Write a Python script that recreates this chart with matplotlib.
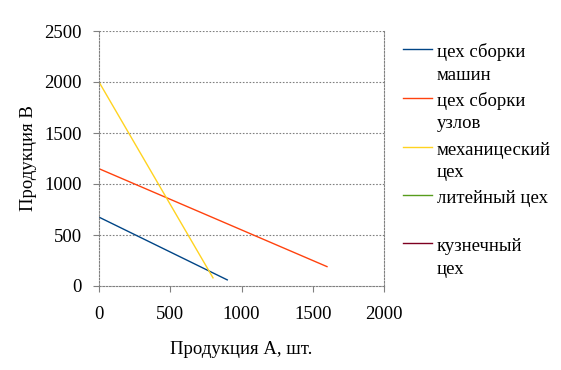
import matplotlib.pyplot as plt
from matplotlib.lines import Line2D

plt.rcParams["font.family"] = ["Liberation Serif", "DejaVu Serif"]

series_names = ["цех сборки\nмашин", "цех сборки\nузлов", "механицеский\nцех",
                "литейный цех", "кузнечный\nцех"]
series_colors = ["#004586", "#ff420e", "#ffd320", "#579d1c", "#7e0021"]
x_values = [[0, 900], [0, 1600], [0, 800], [], []]
y_values = [[675, 60], [1150, 190], [2000, 80], [], []]
x_ticks = [0, 500, 1000, 1500, 2000]
y_ticks = [0, 500, 1000, 1500, 2000, 2500]

FS = 13.5

fig = plt.figure(figsize=(5.61, 3.70), dpi=100)
ax = fig.add_axes([99 / 561, 84 / 370, 285 / 561, 255 / 370])

for xs, ys, c in zip(x_values, y_values, series_colors):
    ax.plot(xs, ys, color=c, lw=1)

ax.set_xlim(0, 2000)
ax.set_ylim(0, 2500)
ax.set_xticks(x_ticks)
ax.set_yticks(y_ticks)
ax.tick_params(labelsize=FS, length=4.3, width=0.8, color="#808080")
ax.tick_params(axis="y", pad=8)
ax.tick_params(axis="x", pad=10)
for y in y_ticks[1:]:
    ax.axhline(y, color="#808080", lw=0.8, ls=(0, (1.5, 1.5)), zorder=0)
for side in ["left", "bottom", "right"]:
    ax.spines[side].set_color("#808080")
    ax.spines[side].set_linestyle((0, (1.5, 1.5)))
    ax.spines[side].set_linewidth(0.8)
ax.spines["top"].set_visible(False)

ax.set_xlabel("Продукция А, шт.", fontsize=FS, labelpad=13)
ax.set_ylabel("Продукция В", fontsize=FS, labelpad=5)

# legend drawn by hand so the line sits beside the first text line
legend_rows = [49, 98, 146.5, 195, 243]
for row, name, c in zip(legend_rows, series_names, series_colors):
    yf = 1 - row / 370
    fig.add_artist(Line2D([403 / 561, 432 / 561], [yf, yf], color=c, lw=1,
                          transform=fig.transFigure))
    for i, part in enumerate(name.split("\n")):
        fig.text(437 / 561, 1 - (row + 8 + i * 22.5) / 370, part, fontsize=FS,
                 va="baseline", ha="left")

fig.savefig("out.png", dpi=100)
